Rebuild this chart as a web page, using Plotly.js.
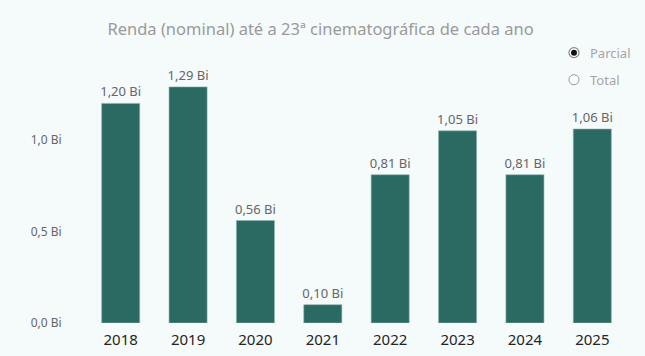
<!DOCTYPE html>
<html>
<head>
<meta charset="utf-8">
<script src="https://cdn.plot.ly/plotly-3.0.1.min.js"></script>
<style>
html,body{margin:0;padding:0;background:#f5fafa;}
#chart{width:645px;height:356px;}
</style>
</head>
<body>
<div id="chart"></div>
<script>
const years = ["2018","2019","2020","2021","2022","2023","2024","2025"];
const renda = [1.20, 1.29, 0.56, 0.10, 0.81, 1.05, 0.81, 1.06];
const legendOptions = ["Parcial", "Total"];
const titleText = "Renda (nominal) até a 23ª cinematográfica de cada ano";

const trace = {
  type: "bar",
  x: years,
  y: renda,
  marker: {color: "#2b6a62", line: {color: "#8fb5ae", width: 0.6}},
  texttemplate: "%{y:.2f} Bi",
  textposition: "outside",
  constraintext: "none",
  textfont: {family: "Noto Sans, sans-serif", size: 13, color: "#666666"},
  cliponaxis: false,
  hoverinfo: "skip"
};

const font = "Noto Sans, sans-serif";
const layout = {
  width: 645, height: 356,
  paper_bgcolor: "#f5fafa",
  plot_bgcolor: "#f5fafa",
  separators: ",.",
  margin: {l: 87, r: 19, t: 60, b: 33},
  bargap: 0.435,
  showlegend: false,
  title: {text: titleText, x: 0.497, xanchor: "center", y: 0.917, yanchor: "middle",
          font: {family: font, size: 16.5, color: "#9a9a9a"}},
  xaxis: {type: "category", showgrid: false, zeroline: false, showline: false,
          tickfont: {family: font, size: 15, color: "#252525"},
          ticks: "outside", ticklen: 3, tickcolor: "rgba(0,0,0,0)"},
  yaxis: {range: [0, 1.437], dtick: 0.5, tick0: 0, tickformat: ".1f", ticksuffix: " Bi",
          showgrid: false, zeroline: false, showline: false,
          ticks: "outside", ticklen: 22, tickcolor: "rgba(0,0,0,0)",
          tickfont: {family: font, size: 12, color: "#666666"}},
  shapes: [
    {type: "circle", xref: "paper", yref: "paper", xsizemode: "pixel", ysizemode: "pixel",
     xanchor: 0.9035, yanchor: 1.028, x0: -5, x1: 5, y0: -5, y1: 5,
     line: {color: "#888888", width: 1.2}, fillcolor: "#ffffff"},
    {type: "circle", xref: "paper", yref: "paper", xsizemode: "pixel", ysizemode: "pixel",
     xanchor: 0.9035, yanchor: 1.028, x0: -3, x1: 3, y0: -3, y1: 3,
     line: {width: 0}, fillcolor: "#111111"},
    {type: "circle", xref: "paper", yref: "paper", xsizemode: "pixel", ysizemode: "pixel",
     xanchor: 0.9035, yanchor: 0.925, x0: -5, x1: 5, y0: -5, y1: 5,
     line: {color: "#999999", width: 1}, fillcolor: "#ffffff"}
  ],
  annotations: [
    {text: legendOptions[0], xref: "paper", yref: "paper", x: 0.93, y: 1.028,
     xanchor: "left", yanchor: "middle", showarrow: false,
     font: {family: font, size: 13, color: "#a6a6a6"}},
    {text: legendOptions[1], xref: "paper", yref: "paper", x: 0.93, y: 0.925,
     xanchor: "left", yanchor: "middle", showarrow: false,
     font: {family: font, size: 13, color: "#a6a6a6"}}
  ]
};

Plotly.newPlot("chart", [trace], layout, {displayModeBar: false, staticPlot: true});
</script>
</body>
</html>
